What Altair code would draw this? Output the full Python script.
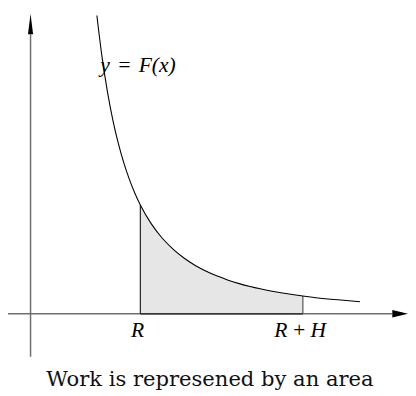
import altair as alt
import pandas as pd

# curve y = F(x)
curve_x = [0.604, 0.65, 0.70, 0.75, 0.80, 0.85, 0.90, 0.95, 1.00, 1.10, 1.20, 1.30,
           1.40, 1.50, 1.60, 1.70, 1.80, 1.90, 2.00, 2.20, 2.40, 2.48, 2.60, 2.80, 3.00]
curve_y = [2.741, 2.367, 2.041, 1.778, 1.5625, 1.384, 1.235, 1.108, 1.000, 0.826, 0.694, 0.592,
           0.510, 0.444, 0.391, 0.346, 0.309, 0.277, 0.250, 0.207, 0.174, 0.163, 0.148, 0.128, 0.111]

R = 1.0
RH = 2.48
x_axis_extent = [-0.205, 3.295]
y_axis_extent = [-0.396, 2.568]

labels_text = ["R", "R\u2009+\u2009H"]
labels_x = [0.975, 2.455]
labels_y = [-0.216, -0.216]

curve_label = "y\u2004=\u2004F(x)"
curve_label_pos = [0.634, 2.225]
caption = "Work is represened by an area"
caption_pos = [1.634, -0.667]

SERIF = "Liberation Serif"
SERIF2 = "DejaVu Serif"

xs = alt.Scale(domain=[-0.2054, 3.4375], nice=False, zero=False)
ys = alt.Scale(domain=[-0.7207, 2.7748], nice=False, zero=False)

curve_df = pd.DataFrame({"x": curve_x, "y": curve_y})
area_df = curve_df[(curve_df.x >= R) & (curve_df.x <= RH)]

X = lambda: alt.X("x:Q", scale=xs, axis=None)
Y = lambda: alt.Y("y:Q", scale=ys, axis=None)

area = alt.Chart(area_df).mark_area(color="#e6e6e6", interpolate="monotone").encode(
    x=X(), y=Y(), y2=alt.datum(0))

xaxis = alt.Chart(pd.DataFrame({"x": [x_axis_extent[0]], "x2": [x_axis_extent[1]], "y": [0]})).mark_rule(
    color="#6e6e6e", strokeWidth=1.5).encode(x=X(), x2="x2:Q", y=Y())
yaxis = alt.Chart(pd.DataFrame({"y": [y_axis_extent[0]], "y2": [y_axis_extent[1]], "x": [0]})).mark_rule(
    color="#6e6e6e", strokeWidth=1.5).encode(y=Y(), y2="y2:Q", x=X())

bottom = alt.Chart(pd.DataFrame({"x": [R], "x2": [RH], "y": [0]})).mark_rule(
    color="#222222", strokeWidth=1.3).encode(x=X(), x2="x2:Q", y=Y())
vlines = alt.Chart(pd.DataFrame({"x": [R, RH], "y": [0, 0], "y2": [1.0, 0.163],
                                 "c": ["#222222", "#555555"]})).mark_rule(strokeWidth=1.2).encode(
    x=X(), y=Y(), y2="y2:Q", color=alt.Color("c:N", scale=None))

line = alt.Chart(curve_df).mark_line(color="black", strokeWidth=1.1, interpolate="monotone").encode(
    x=X(), y=Y())

up_arrow = alt.Chart(pd.DataFrame({"x": [0], "y": [2.662]})).mark_point(
    shape="M0,-1L-0.25,1L0.25,1Z", size=441, filled=True, color="black", opacity=1).encode(x=X(), y=Y())
right_arrow = alt.Chart(pd.DataFrame({"x": [3.366], "y": [0]})).mark_point(
    shape="M1,0L-1,-0.47L-1,0.47Z", size=256, filled=True, color="black", opacity=1).encode(x=X(), y=Y())

lab = alt.Chart(pd.DataFrame({"x": labels_x, "y": labels_y, "t": labels_text})).mark_text(
    font=SERIF, fontStyle="italic", fontSize=22, align="center", baseline="alphabetic",
    color="black").encode(x=X(), y=Y(), text="t:N")

flab = alt.Chart(pd.DataFrame({"x": [curve_label_pos[0]], "y": [curve_label_pos[1]], "t": [curve_label]})).mark_text(
    font=SERIF, fontStyle="italic", fontSize=22, align="left", baseline="alphabetic",
    color="black").encode(x=X(), y=Y(), text="t:N")

cap = alt.Chart(pd.DataFrame({"x": [caption_pos[0]], "y": [caption_pos[1]], "t": [caption]})).mark_text(
    font=SERIF2, fontSize=21.5, align="center", baseline="alphabetic",
    color="#111111").encode(x=X(), y=Y(), text="t:N")

chart = alt.layer(area, xaxis, yaxis, bottom, vlines, line, up_arrow, right_arrow, lab, flab, cap).properties(
    width=408, height=388, padding=0, autosize=alt.AutoSizeParams(type="none")
).configure_view(stroke=None)

chart.save("out.html", embed_options={"renderer": "svg", "actions": False})
